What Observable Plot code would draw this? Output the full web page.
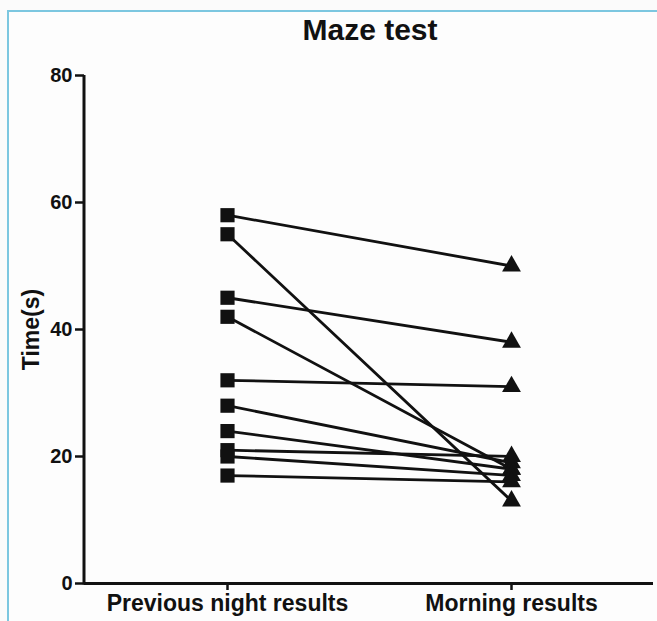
<!DOCTYPE html>
<html>
<head>
<meta charset="utf-8">
<script src="https://cdn.jsdelivr.net/npm/d3@7"></script>
<script src="https://cdn.jsdelivr.net/npm/@observablehq/plot@0.6"></script>
<style>
  html, body { margin: 0; padding: 0; background: #fbfbfb; }
  #wrap { position: relative; width: 657px; height: 621px; overflow: hidden; font-family: "Liberation Sans", Arial, sans-serif; }
  #border { position: absolute; left: 7px; top: 10px; right: -5px; bottom: -5px; border-top: 2px solid #7cc7e0; border-left: 2px solid #7cc7e0; background: #fdfdfd; }
  #title { position: absolute; left: 0; width: 740px; top: 13px; text-align: center; font-weight: bold; font-size: 30px; color: #111; }
  #chart { position: absolute; left: 0; top: 0; }
  #chart svg g[aria-label="y-axis label"] text { font-size: 23px; }
</style>
</head>
<body>
<div id="wrap">
  <div id="border"></div>
  <div id="title">Maze test</div>
  <div id="chart"></div>
</div>
<script>
const categories = ["Previous night results", "Morning results"];
const previousNight = [58, 55, 45, 42, 32, 28, 24, 21, 20, 17];
const morning = [50, 13, 38, 18, 31, 19, 18, 20, 17, 16];
const yTicks = [0, 20, 40, 60, 80];

const rows = previousNight.flatMap((v, i) => [
  {subject: i, session: categories[0], time: v},
  {subject: i, session: categories[1], time: morning[i]}
]);

const yAxisLine = (index, scales, values, dimensions) => {
  const x = dimensions.marginLeft;
  const line = d3.create("svg:line")
    .attr("x1", x).attr("x2", x)
    .attr("y1", scales.y(yTicks[0]) + 1.5).attr("y2", scales.y(yTicks[yTicks.length - 1]))
    .attr("stroke", "#111").attr("stroke-width", 3);
  return line.node();
};

const chart = Plot.plot({
  width: 657,
  height: 621,
  marginLeft: 84,
  marginRight: 4,
  marginTop: 75,
  marginBottom: 38,
  style: {fontFamily: "'Liberation Sans', Arial, sans-serif", fontWeight: "bold", background: "transparent", color: "#111"},
  x: {type: "point", domain: categories, padding: 0.5},
  y: {domain: [0, 80]},
  marks: [
    Plot.axisY({ticks: yTicks, tickSize: 9, tickPadding: 3, strokeWidth: 2.5, fontSize: 20, label: "Time(s)", labelAnchor: "center", labelOffset: 62, labelArrow: "none"}),
    Plot.axisX({tickSize: 7, tickPadding: 4, strokeWidth: 2.5, fontSize: 23, label: null}),
    Plot.ruleY([0], {stroke: "#111", strokeWidth: 3}),
    yAxisLine,
    Plot.line(rows, {x: "session", y: "time", z: "subject", stroke: "#111", strokeWidth: 2.8}),
    Plot.dot(rows.filter(d => d.session === categories[0]), {x: "session", y: "time", symbol: "square", r: 8, fill: "#111"}),
    Plot.dot(rows.filter(d => d.session === categories[1]), {x: "session", y: "time", symbol: "triangle", r: 7, fill: "#111"})
  ]
});
document.getElementById("chart").append(chart);
</script>
</body>
</html>
